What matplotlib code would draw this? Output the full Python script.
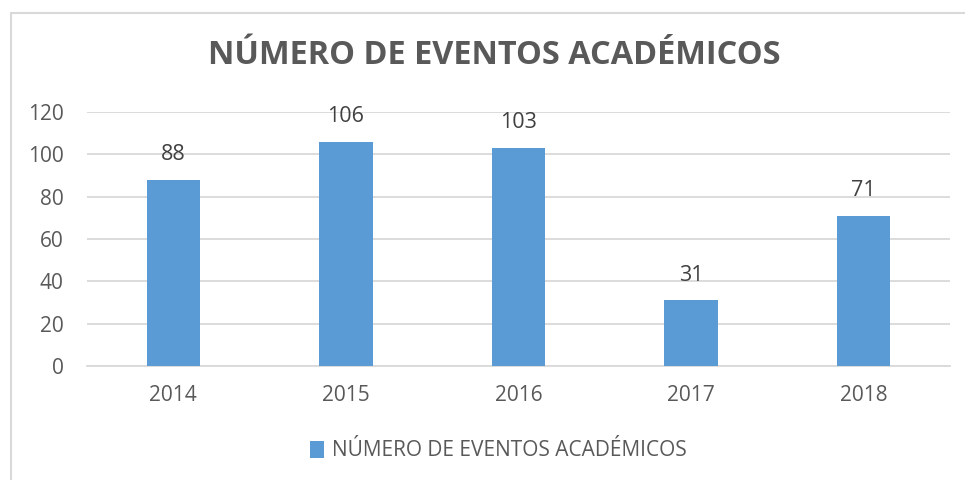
import matplotlib
matplotlib.use("Agg")
import matplotlib.pyplot as plt
from matplotlib.patches import Rectangle, Patch

years = ["2014", "2015", "2016", "2017", "2018"]
values = [88, 106, 103, 31, 71]
title = "NÚMERO DE EVENTOS ACADÉMICOS"
series_name = "NÚMERO DE EVENTOS ACADÉMICOS"
yticks = [0, 20, 40, 60, 80, 100, 120]

plt.rcParams['font.family'] = ['Open Sans', 'DejaVu Sans']
bar_color = "#5B9BD5"
text_color = "#595959"
grid_color = "#D9D9D9"

fig = plt.figure(figsize=(9.65, 4.8), dpi=100)
fig.patches.append(Rectangle((11/965, -0.05), 1.1, 1 - 13/480 + 0.05,
                             transform=fig.transFigure, fill=False,
                             edgecolor=grid_color, linewidth=1.5))

ax = fig.add_axes([87/965, 1 - 366/480, (950 - 87)/965, (366 - 112)/480])
x = list(range(len(years)))
bars = ax.bar(x, values, width=0.31, color=bar_color, zorder=3)
ax.set_xlim(-0.5, len(years) - 0.5)
ax.set_ylim(0, 120)
ax.set_yticks(yticks)
ax.set_xticks(x)
ax.set_xticklabels(years)
ax.yaxis.grid(True, color=grid_color, linewidth=1.3, zorder=0)
for s in ["top", "right", "left"]:
    ax.spines[s].set_visible(False)
ax.spines["bottom"].set_color(grid_color)
ax.spines["bottom"].set_linewidth(1.3)
ax.tick_params(axis="both", length=0, labelsize=15, labelcolor=text_color)
ax.tick_params(axis="x", pad=14)
ax.tick_params(axis="y", pad=17)
for lbl in ax.get_yticklabels():
    lbl.set_horizontalalignment("right")

for xi, v in zip(x, values):
    ax.annotate(str(v), (xi, v), xytext=(0, 18), textcoords="offset points",
                ha="center", va="center", fontsize=15.5, color="#404040")

fig.text(494/965, 1 - 55/480, title, ha="center", va="center",
         fontsize=23.4, fontweight="bold", color=text_color)

fig.legend(handles=[Patch(facecolor=bar_color, label=series_name)],
           loc="center", bbox_to_anchor=(498/965, 1 - 451/480), frameon=False,
           fontsize=15, labelcolor=text_color, handlelength=0.7, handleheight=0.9,
           handletextpad=0.35)

fig.savefig("out.png", dpi=100)
